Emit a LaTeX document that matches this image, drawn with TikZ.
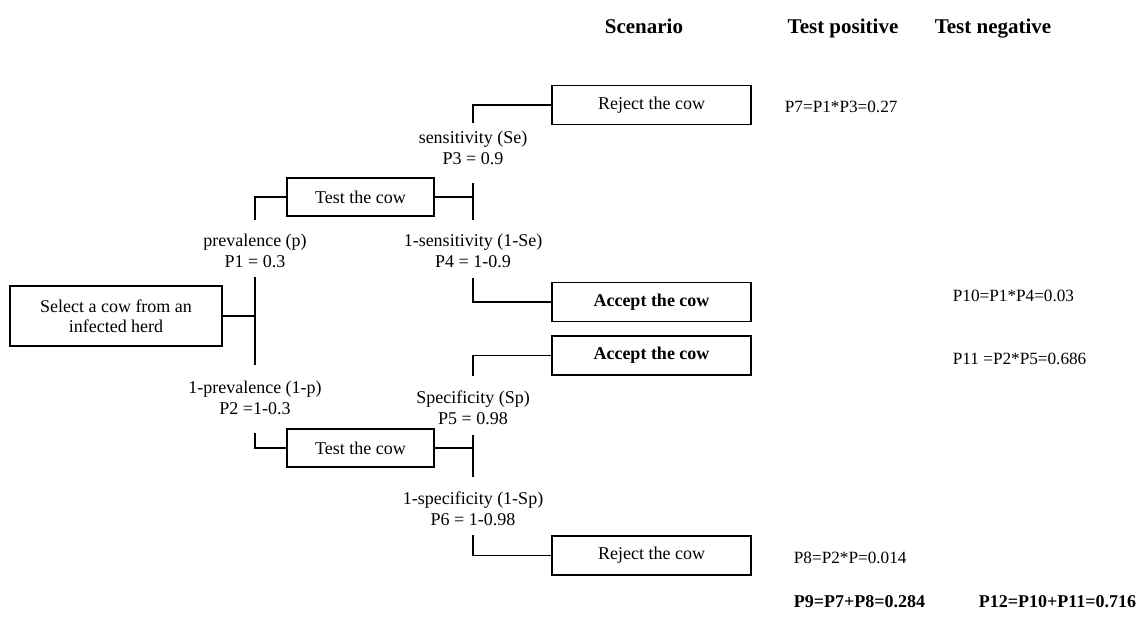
\documentclass[tikz,border=0pt]{standalone}
\usepackage{fontspec}
\setmainfont{Liberation Serif}
\begin{document}
\begin{tikzpicture}[x=0.5pt,y=-0.5pt,
  line width=0.9pt,
  every node/.style={font=\fontsize{9}{10}\selectfont},
  boxw/.style={draw, line width=0.65pt, inner sep=0pt, align=center},
  smallbox/.style={boxw, minimum width=73.5pt, minimum height=19pt},
  endbox/.style={boxw, minimum width=99.5pt, minimum height=19.5pt},
  lbl/.style={align=center, inner sep=0pt, font=\fontsize{9}{10.5}\selectfont},
  res/.style={anchor=west, inner sep=0pt, font=\fontsize{8.6}{10}\selectfont},
  tot/.style={anchor=west, inner sep=0pt, font=\fontsize{9}{10}\selectfont\bfseries},
  hdr/.style={anchor=base, inner sep=0pt, font=\fontsize{10.5}{12}\selectfont\bfseries}]
\useasboundingbox (0,0) rectangle (1137,617);

% boxes
\node[boxw, minimum width=106pt, minimum height=30pt] (sel) at (116,316) {Select a cow from an\\infected herd};
\node[smallbox] (test1) at (360.5,197) {Test the cow};
\node[smallbox] (test2) at (360.5,448) {Test the cow};
\node[endbox] (rej1) at (651.5,105) {Reject the cow};
\node[endbox] (acc1) at (651.5,302) {\textbf{Accept the cow}};
\node[endbox] (acc2) at (651.5,355.5) {\textbf{Accept the cow}};
\node[endbox] (rej2) at (651.5,555.5) {Reject the cow};

% labels
\node[lbl] (lp1) at (255,251) {prevalence (p)\\P1 = 0.3};
\node[lbl] (lp2) at (255,397.5) {1-prevalence (1-p)\\P2 =1-0.3};
\node[lbl] (lse) at (473,147.5) {sensitivity (Se)\\P3 = 0.9};
\node[lbl] (lnse) at (473,251) {1-sensitivity (1-Se)\\P4 = 1-0.9};
\node[lbl] (lsp) at (473,408) {Specificity (Sp)\\P5 = 0.98};
\node[lbl] (lnsp) at (473,508.5) {1-specificity (1-Sp)\\P6 = 1-0.98};

% junction coordinates
\coordinate (j0) at (255,316);
\coordinate (j0t) at (255,277);
\coordinate (j0b) at (255,365);
\coordinate (a1) at (255,220);
\coordinate (a2) at (255,433);
\coordinate (j1) at (473,197);
\coordinate (j1t) at (473,183);
\coordinate (j1b) at (473,220);
\coordinate (b1) at (473,123);
\coordinate (b2) at (473,278);
\coordinate (j2) at (473,448);
\coordinate (j2t) at (473,435);
\coordinate (j2b) at (473,477);
\coordinate (c1) at (473,376);
\coordinate (c2) at (473,535);

% connectors
\draw (sel.east) -- (j0);
\draw (j0t) -- (j0b);
\draw (a1) |- (test1.west);
\draw (a2) |- (test2.west);
\draw (test1.east) -- (j1);
\draw (j1t) -- (j1b);
\draw (b1) |- (rej1.west);
\draw (b2) |- (acc1.west);
\draw (test2.east) -- (j2);
\draw (j2t) -- (j2b);
\draw (c1) |- (acc2.west);
\draw (c2) |- (rej2.west);

% headers
\node[hdr] (hs) at (644,33) {Scenario};
\node[hdr] (hp) at (843,33) {Test positive};
\node[hdr] (hn) at (993,33) {Test negative};

% results
\node[res] (p7) at (784,107) {P7=P1*P3=0.27};
\node[res] (p10) at (952,296) {P10=P1*P4=0.03};
\node[res] (p11) at (952,359) {P11 =P2*P5=0.686};
\node[res] (p8) at (793,558) {P8=P2*P=0.014};
\node[tot] (p9) at (793,602) {P9=P7+P8=0.284};
\node[tot] (p12) at (978,602) {P12=P10+P11=0.716};
\end{tikzpicture}
\end{document}
